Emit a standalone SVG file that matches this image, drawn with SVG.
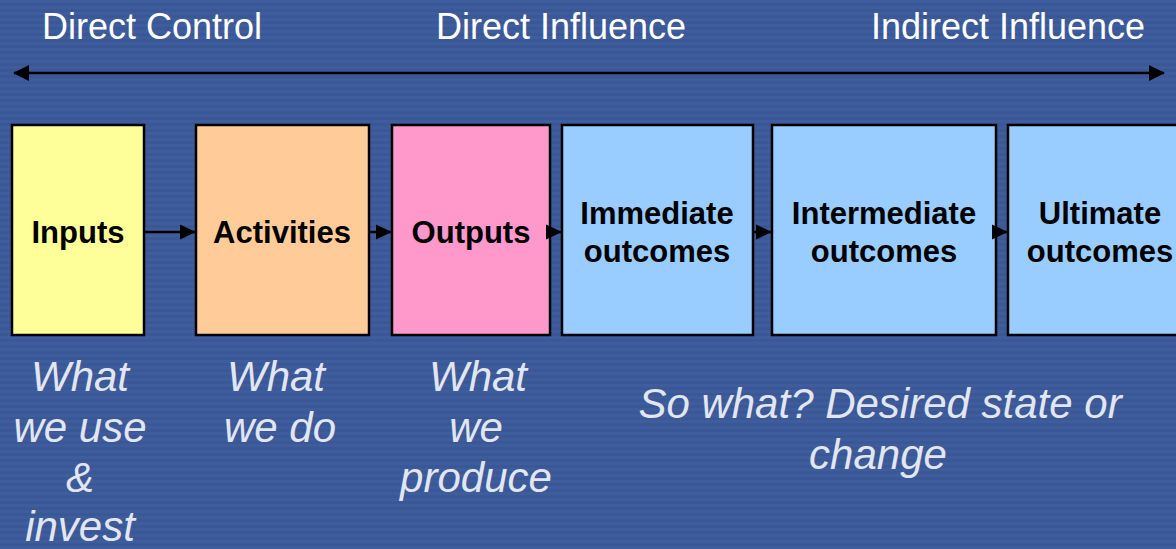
<svg xmlns="http://www.w3.org/2000/svg" width="1176" height="549" viewBox="0 0 1176 549">
<defs>
<pattern id="stripes" width="8" height="6" patternUnits="userSpaceOnUse">
<rect width="8" height="6" fill="#3f5d9c"/>
<rect y="3" width="8" height="3" fill="#3a5796"/>
</pattern>
<marker id="ah" markerWidth="16" markerHeight="16" refX="15" refY="8" orient="auto" markerUnits="userSpaceOnUse">
<path d="M0,0.5 L16,8 L0,15.5 Z" fill="#000"/>
</marker>
<marker id="bh" markerWidth="16" markerHeight="16" refX="15" refY="8" orient="auto-start-reverse" markerUnits="userSpaceOnUse">
<path d="M0,0 L16,8 L0,16 Z" fill="#000"/>
</marker>
<style>
.box{stroke:#000;stroke-width:2.5}
.bt{font-family:"Liberation Sans",Arial,sans-serif;font-weight:bold;font-size:31px;fill:#000;text-anchor:middle}
.top{font-family:"Liberation Sans",Arial,sans-serif;font-size:36px;fill:#fff;text-anchor:middle}
.it{font-family:"Liberation Sans",Arial,sans-serif;font-style:italic;font-size:42px;fill:#e2e6f0;text-anchor:middle}
.conn{stroke:#000;stroke-width:2.5;fill:none}
</style>
</defs>
<rect width="1176" height="549" fill="url(#stripes)"/>
<g id="labels-top">
<text class="top" x="152" y="39">Direct Control</text>
<text class="top" x="561" y="39">Direct Influence</text>
<text class="top" x="1008" y="39">Indirect Influence</text>
</g>
<g id="inputs">
<rect class="box" x="12" y="125" width="132" height="210" fill="#ffff99"/>
<text class="bt" x="78" y="243">Inputs</text>
</g>
<g id="activities">
<rect class="box" x="196" y="125" width="173" height="210" fill="#ffcc99"/>
<text class="bt" x="282" y="243">Activities</text>
</g>
<g id="outputs">
<rect class="box" x="392" y="125" width="158" height="210" fill="#ff99cc"/>
<text class="bt" x="471" y="243">Outputs</text>
</g>
<g id="immediate">
<rect class="box" x="562" y="125" width="191" height="210" fill="#99ccff"/>
<text class="bt" x="657" y="224">Immediate</text>
<text class="bt" x="657" y="262">outcomes</text>
</g>
<g id="intermediate">
<rect class="box" x="772" y="125" width="224" height="210" fill="#99ccff"/>
<text class="bt" x="884" y="224">Intermediate</text>
<text class="bt" x="884" y="262">outcomes</text>
</g>
<g id="ultimate">
<rect class="box" x="1008" y="125" width="190" height="210" fill="#99ccff"/>
<text class="bt" x="1100" y="224">Ultimate</text>
<text class="bt" x="1100" y="262">outcomes</text>
</g>
<g id="connectors">
<line class="conn" x1="14" y1="73" x2="1164" y2="73" marker-start="url(#bh)" marker-end="url(#bh)"/>
<line class="conn" x1="145" y1="232" x2="195" y2="232" marker-end="url(#ah)"/>
<line class="conn" x1="370" y1="232" x2="391" y2="232" marker-end="url(#ah)"/>
<line class="conn" x1="551" y1="232" x2="561" y2="232" marker-end="url(#ah)"/>
<line class="conn" x1="754" y1="232" x2="771" y2="232" marker-end="url(#ah)"/>
<line class="conn" x1="997" y1="232" x2="1007" y2="232" marker-end="url(#ah)"/>
</g>
<g id="descriptions">
<text class="it" x="80" y="391">What</text>
<text class="it" x="80" y="442">we use</text>
<text class="it" x="80" y="492">&amp;</text>
<text class="it" x="80" y="541">invest</text>
<text class="it" x="276" y="391">What</text>
<text class="it" x="280" y="442">we do</text>
<text class="it" x="478" y="391">What</text>
<text class="it" x="476" y="442">we</text>
<text class="it" x="476" y="492">produce</text>
<text class="it" x="880" y="418">So what? Desired state or</text>
<text class="it" x="878" y="469">change</text>
</g>
</svg>
